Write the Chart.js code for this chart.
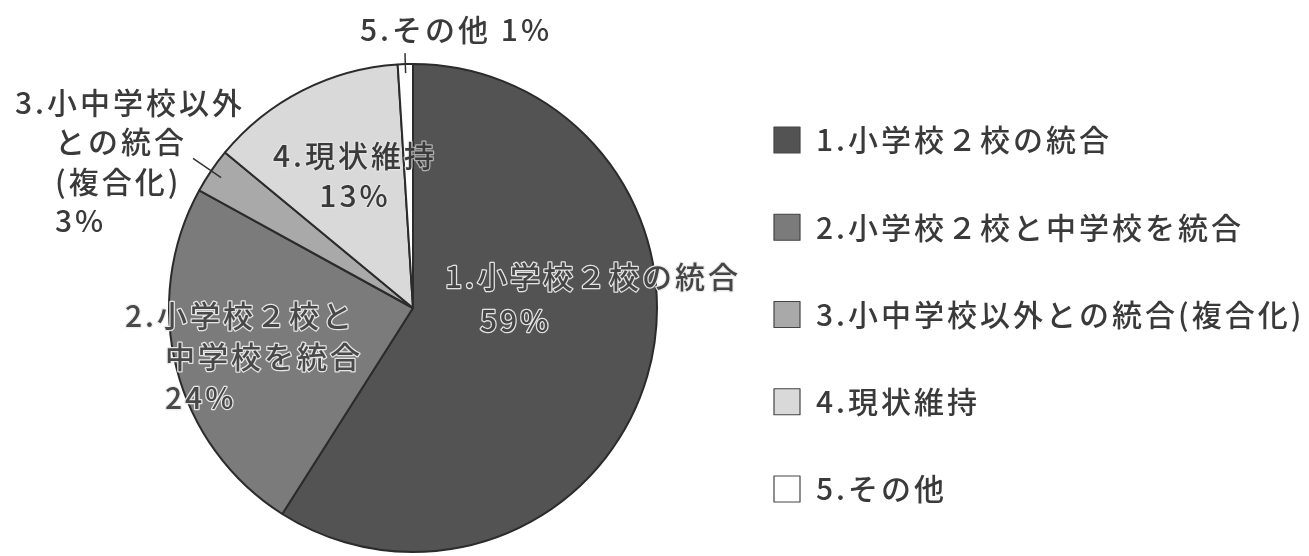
<!DOCTYPE html>
<html lang="ja">
<head>
<meta charset="utf-8">
<title>統合の方向性</title>
<script src="https://cdn.jsdelivr.net/npm/chart.js@4.4.1/dist/chart.umd.min.js"></script>
<style>
  html, body { margin: 0; padding: 0; background: #fff; }
  #wrap { position: relative; width: 1309px; height: 556px; }
</style>
</head>
<body>
<div id="wrap"><canvas id="pie"></canvas></div>
<script>
// 回答の区分（凡例の表記）
const categories = ['1.小学校２校の統合', '2.小学校２校と中学校を統合', '3.小中学校以外との統合(複合化)', '4.現状維持', '5.その他'];
// 割合（%）
const values = [59, 24, 3, 13, 1];
// 円グラフ上のラベル（改行ごと）
const sliceLabels = [['1.小学校２校の統合'], ['2.小学校２校と', '中学校を統合'], ['3.小中学校以外', 'との統合', '(複合化)'], ['4.現状維持'], ['5.その他']];

const fills = ['#535353', '#7b7b7b', '#a9a9a9', '#d9d9d9', '#ffffff'];
const FONT = '"Noto Sans CJK JP", "Noto Sans", sans-serif';

// ラベルの配置（行ごとの [x, y]、最後が %）
const layout = [
  { pos: [[445, 277], [480, 321]], fill: '#454545', halo: 'rgba(235,235,235,0.95)' },
  { pos: [[125, 316], [165, 357], [165, 398]], fill: '#484848', halo: 'rgba(235,235,235,0.95)' },
  { pos: [[15, 103], [55, 142], [55, 182], [55, 221]], fill: '#3a3a3a' },
  { pos: [[355, 156], [355, 196]], fill: '#3a3a3a', align: 'center', halo: 'rgba(235,235,235,0.6)' },
  { pos: [[360, 30]], fill: '#3a3a3a', inline: true }
];
// 引き出し線 [区分, 内側, 外側]（外周からの距離）
const leaders = [[2, -12, 22], [4, -9, 11]];

const labelPlugin = {
  id: 'sliceLabels',
  afterDatasetsDraw(chart) {
    const ctx = chart.ctx;
    const arcs = chart.getDatasetMeta(0).data;
    ctx.save();

    ctx.strokeStyle = '#333';
    ctx.lineWidth = 1.5;
    leaders.forEach(([i, r0, r1]) => {
      const a = arcs[i];
      const mid = (a.startAngle + a.endAngle) / 2;
      ctx.beginPath();
      ctx.moveTo(a.x + Math.cos(mid) * (a.outerRadius + r0), a.y + Math.sin(mid) * (a.outerRadius + r0));
      ctx.lineTo(a.x + Math.cos(mid) * (a.outerRadius + r1), a.y + Math.sin(mid) * (a.outerRadius + r1));
      ctx.stroke();
    });

    ctx.font = '500 30px ' + FONT;
    ctx.letterSpacing = '3px';
    ctx.textBaseline = 'middle';
    ctx.lineJoin = 'round';
    layout.forEach((l, i) => {
      const lines = sliceLabels[i].slice();
      const pct = values[i] + '%';
      if (l.inline) lines[lines.length - 1] += ' ' + pct;
      else lines.push(pct);
      ctx.textAlign = l.align || 'left';
      lines.forEach((t, k) => {
        const [x, y] = l.pos[k];
        if (l.halo) {
          // 白い縁取り（文字の外側だけ見える）
          ctx.strokeStyle = l.halo;
          ctx.lineWidth = 2.5;
          ctx.strokeText(t, x, y);
        }
        ctx.fillStyle = l.fill;
        ctx.fillText(t, x, y);
      });
    });

    // 凡例
    ctx.textAlign = 'left';
    categories.forEach((c, i) => {
      const y = 140 + i * 87.25;
      ctx.fillStyle = fills[i];
      ctx.fillRect(774, y - 13, 26, 26);
      ctx.strokeStyle = '#444';
      ctx.lineWidth = 1.2;
      ctx.strokeRect(774, y - 13, 26, 26);
      ctx.fillStyle = '#3a3a3a';
      ctx.fillText(c, 816, y);
    });
    ctx.restore();
  }
};

new Chart(document.getElementById('pie'), {
  type: 'pie',
  data: {
    labels: categories,
    datasets: [{
      data: values,
      backgroundColor: fills,
      borderColor: '#2b2b2b',
      borderWidth: 2
    }]
  },
  options: {
    responsive: true,
    maintainAspectRatio: false,
    animation: false,
    layout: { padding: { left: 168, right: 651, top: 63, bottom: 3 } },
    plugins: {
      legend: { display: false },
      tooltip: { enabled: false }
    }
  },
  plugins: [labelPlugin]
});
</script>
</body>
</html>
